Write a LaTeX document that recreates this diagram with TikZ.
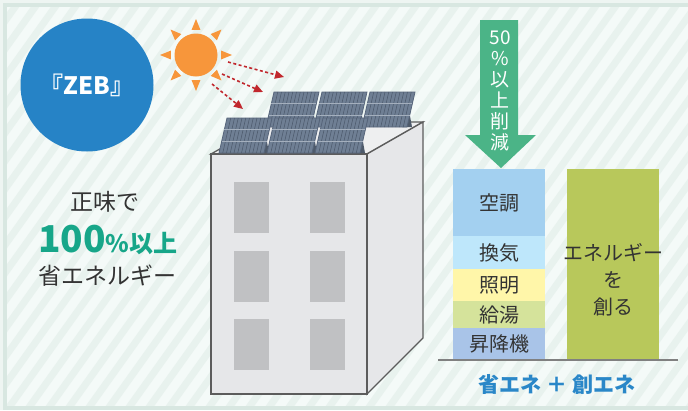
\documentclass[tikz,border=0pt]{standalone}
\usepackage{fontspec}
\setmainfont{Noto Sans CJK JP}
\usetikzlibrary{arrows.meta,positioning}

\definecolor{soto}{HTML}{EEF5F2}
\definecolor{waku}{HTML}{D8E7E1}
\definecolor{haikei}{HTML}{F4FAF8}
\definecolor{shima}{HTML}{E8F2EE}
\definecolor{zebao}{HTML}{2683C6}
\definecolor{taiyou}{HTML}{F7963B}
\definecolor{hikari}{HTML}{C1272D}
\definecolor{kabe}{HTML}{E6E7E9}
\definecolor{okujou}{HTML}{EEEFF0}
\definecolor{rinkaku}{HTML}{5C5C5C}
\definecolor{mado}{HTML}{C0C1C3}
\definecolor{panel}{HTML}{6F7F94}
\definecolor{panelwaku}{HTML}{56647A}
\definecolor{panelsen}{HTML}{4B586A}
\definecolor{panelhikari}{HTML}{A4AFBD}
\definecolor{panelashi}{HTML}{4E5A6A}
\definecolor{midori}{HTML}{4BB487}
\definecolor{moji}{HTML}{333333}
\definecolor{zeb100}{HTML}{17A689}
\definecolor{kuchou}{HTML}{A3D0F0}
\definecolor{kanki}{HTML}{BEE7FB}
\definecolor{shoumei}{HTML}{FFF6A9}
\definecolor{kyuutou}{HTML}{D5E39B}
\definecolor{shoukouki}{HTML}{A9C4E8}
\definecolor{souene}{HTML}{B8C85B}
\definecolor{ao}{HTML}{2A87C8}

% 太陽光パネル（左下の角を指定）
\newcommand{\solarpanel}[2]{%
  \fill[panelashi] (#1+40,#2) -- (#1+50,#2) -- (#1+48,#2-11) -- cycle;
  \filldraw[fill=panel, draw=panelwaku, line width=0.8] (#1,#2) -- (#1+45,#2) -- (#1+53,#2-35) -- (#1+8,#2-35) -- cycle;
  \foreach \i in {1,...,11}
    \draw[panelsen, line width=0.5] (#1+\i*45/12,#2) -- (#1+8+\i*45/12,#2-35);
  \foreach \j in {1,2}
    \draw[panelhikari, line width=0.9] (#1+8*\j/3,#2-35*\j/3) -- (#1+45+8*\j/3,#2-35*\j/3);
}

\begin{document}
\begin{tikzpicture}[x=1pt, y=-1pt,
    hikarisen/.style={hikari, line width=1.6, dash pattern=on 3pt off 2.5pt, -{Triangle[length=9pt, width=8pt]}},
    bar/.style={minimum width=92pt, inner sep=0pt, outer sep=0pt, text=moji, font=\fontsize{20}{20}\selectfont},
    mojiL/.style={text=moji, font=\fontsize{23}{23}\selectfont}]
  \useasboundingbox (0,0) rectangle (688,410);

  % 背景と斜めの縞
  \fill[soto] (0,0) rectangle (688,410);
  \fill[haikei] (5,5) rectangle (700,408);
  \begin{scope}
    \clip (5,5) rectangle (700,408);
    \foreach \s in {-340,-320,...,700}
      \draw[shima, line width=7] (\s,420) -- (\s+300,0);
  \end{scope}
  \draw[waku, line width=3.5] (5,5) rectangle (700,408);

  % ZEB の丸
  \node[circle, fill=zebao, minimum size=133pt, inner sep=0pt, text=white,
        font=\fontsize{24}{24}\selectfont\bfseries] (zeb) at (87,85) {『ZEB』};

  % 太陽
  \node[circle, fill=taiyou, minimum size=43pt, inner sep=0pt] (taiyo) at (196,55) {};
  \foreach \a in {0,45,...,315}
    \fill[taiyou, shift={(196,55)}] (\a-10:25.5) -- (\a:36) -- (\a+10:25.5) -- cycle;

  % 光の矢印
  \coordinate (hs1) at (228,62);  \coordinate (he1) at (284,77);
  \coordinate (hs2) at (222,74);  \coordinate (he2) at (263,92);
  \coordinate (hs3) at (212,84);  \coordinate (he3) at (243,109);
  \draw[hikarisen] (hs1) -- (he1);
  \draw[hikarisen] (hs2) -- (he2);
  \draw[hikarisen] (hs3) -- (he3);

  % 建物
  \filldraw[fill=okujou, draw=rinkaku, line width=1.3] (267,122) -- (423,122) -- (367,154) -- (211,154) -- cycle;
  \filldraw[fill=kabe, draw=rinkaku, line width=1.3] (367,154) -- (423,122) -- (423,338) -- (367,394) -- cycle;
  \filldraw[fill=kabe, draw=rinkaku, line width=1.3] (211,154) rectangle (367,394);
  \foreach \mx in {234,310}
    \foreach \my in {182,251,319}
      \fill[mado] (\mx,\my) rectangle (\mx+35,\my+51);

  % 屋上のパネル
  \solarpanel{266}{127}
  \solarpanel{314}{127}
  \solarpanel{362}{127}
  \solarpanel{219}{153}
  \solarpanel{267}{153}
  \solarpanel{315}{153}

  % 左の説明
  \node[mojiL] (shoumi) at (105,202) {正味で};
  \node[text=zeb100, font=\bfseries] (hyaku) at (108,240)
    {{\fontsize{37}{37}\selectfont 100}{\fontsize{24}{24}\selectfont\%以上}};
  \node[mojiL] (shouene) at (107,276) {省エネルギー};

  % 削減の矢印
  \fill[midori] (480,20) -- (518,20) -- (518,135) -- (536,135) -- (501,168) -- (465,135) -- (480,135) -- cycle;
  \node[text=white, align=center, anchor=north, font=\fontsize{19}{21}\selectfont] (sakugen) at (500,27)
    {50\\\%\\以\\上\\削\\減};

  % 棒グラフ
  \node[bar, fill=kuchou, minimum height=67pt, anchor=north] (kuchou) at (499,169) {空調};
  \node[bar, fill=kanki, minimum height=33pt, below=0pt of kuchou] (kanki) {換気};
  \node[bar, fill=shoumei, minimum height=32pt, below=0pt of kanki] (shoumei) {照明};
  \node[bar, fill=kyuutou, minimum height=27pt, below=0pt of shoumei] (kyuutou) {給湯};
  \node[bar, fill=shoukouki, minimum height=32pt, below=0pt of kyuutou] (shoukouki) {昇降機};
  \node[bar, fill=souene, minimum height=191pt, anchor=north] (souene) at (613,169) {};
  \node[align=center, text=moji, font=\fontsize{20}{27}\selectfont] (souzou) at (613,280)
    {エネルギー\\を\\創る};

  % 基準線とまとめ
  \coordinate (kiten) at (438,360);
  \coordinate (shuten) at (678,360);
  \draw[gray, line width=1.5] (kiten) -- (shuten);
  \node[text=ao, font=\fontsize{21}{21}\selectfont\bfseries] (matome) at (557,385) {省エネ ＋ 創エネ};
\end{tikzpicture}
\end{document}
